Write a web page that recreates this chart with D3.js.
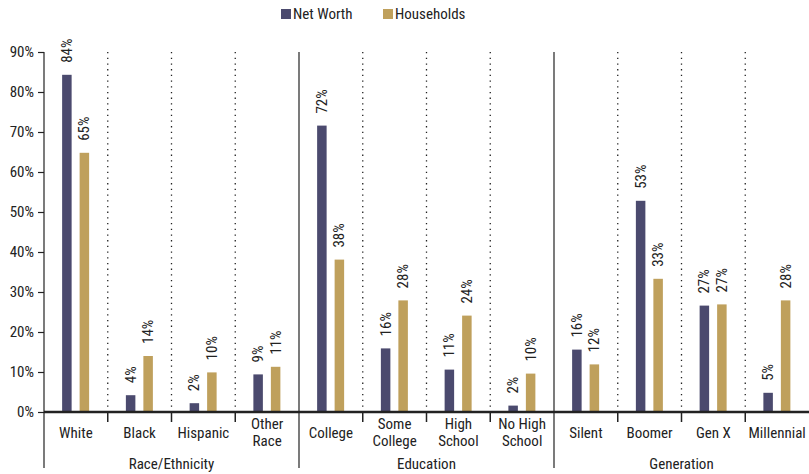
<!DOCTYPE html>
<html><head><meta charset="utf-8">
<script src="https://cdn.jsdelivr.net/npm/d3@7"></script>
<style>body{margin:0;background:#fff}svg{display:block}text{font-family:"Liberation Sans Narrow","Arial Narrow","Roboto Condensed",sans-serif;fill:#222}</style>
</head><body><svg id="c" width="809" height="474"></svg>
<script>
const categories = ["White","Black","Hispanic","Other Race","College","Some College","High School","No High School","Silent","Boomer","Gen X","Millennial"];
const catLines = [["White"],["Black"],["Hispanic"],["Other","Race"],["College"],["Some","College"],["High","School"],["No High","School"],["Silent"],["Boomer"],["Gen X"],["Millennial"]];
const groups = ["Race/Ethnicity","Education","Generation"];
const groupOf = [0,0,0,0,1,1,1,1,2,2,2,2];
const netWorth = [84.3,4.2,2.2,9.4,71.6,15.9,10.6,1.6,15.6,52.8,26.6,4.8];
const households = [64.8,14.0,9.9,11.3,38.1,27.9,24.1,9.6,11.9,33.3,26.9,27.9];
const yTicks = [0,10,20,30,40,50,60,70,80,90];
const seriesNames = ["Net Worth","Households"];
const colors = ["#4b4a6e","#bfa05c"];

const svg = d3.select("#c");
const x0 = 44, x1 = 809, yTop = 52, yBot = 412;
const x = d3.scaleBand().domain(categories).range([x0,x1]).padding(0);
const y = d3.scaleLinear().domain([0,90]).range([yBot,yTop]);
const bw = 9.5;
const offs = [-9, 8.5];
const fs = "15px";

const bounds = categories.slice(1).map((c,i)=>({x:x(c), group: groupOf[i]!==groupOf[i+1]}));
svg.selectAll("line.dot").data(bounds.filter(b=>!b.group)).join("line")
  .attr("x1",d=>d.x).attr("x2",d=>d.x).attr("y1",yTop).attr("y2",yBot)
  .attr("stroke","#222").attr("stroke-width",1.3).attr("stroke-dasharray","1.3,4.4");
svg.selectAll("line.grp").data(bounds.filter(b=>b.group)).join("line")
  .attr("x1",d=>d.x).attr("x2",d=>d.x).attr("y1",yTop).attr("y2",468)
  .attr("stroke","#222").attr("stroke-width",1.2);
svg.selectAll("line.ct").data(bounds.filter(b=>!b.group)).join("line")
  .attr("x1",d=>d.x).attr("x2",d=>d.x).attr("y1",yBot).attr("y2",422)
  .attr("stroke","#222").attr("stroke-width",1.5);

const yAxis = d3.axisLeft(y).tickValues(yTicks).tickFormat(d=>d+"%").tickSize(6).tickPadding(4);
const ga = svg.append("g").attr("transform",`translate(${x0},0)`).call(yAxis);
ga.select(".domain").remove();
ga.selectAll("line").attr("stroke","#222").attr("stroke-width",1.2);
ga.selectAll("text").style("font-size",fs).attr("fill","#222");
svg.append("line").attr("x1",x0).attr("x2",x0).attr("y1",yTop).attr("y2",468).attr("stroke","#222").attr("stroke-width",1.2);

[netWorth,households].forEach((vals,si)=>{
  const g = svg.append("g");
  g.selectAll("rect").data(vals).join("rect")
    .attr("x",(d,i)=>x(categories[i])+x.bandwidth()/2+offs[si]-bw/2)
    .attr("width",bw).attr("y",d=>y(d)).attr("height",d=>yBot-y(d))
    .attr("fill",colors[si]);
  g.selectAll("text").data(vals).join("text")
    .attr("transform",(d,i)=>`translate(${x(categories[i])+x.bandwidth()/2+offs[si]+5},${y(d)-12}) rotate(-90)`)
    .style("font-size",fs).text(d=>Math.round(d)+"%");
});

svg.append("line").attr("x1",x0).attr("x2",x1).attr("y1",yBot).attr("y2",yBot).attr("stroke","#222").attr("stroke-width",2.5);

categories.forEach((c,i)=>{
  const lines = catLines[i];
  const cx = x(c)+x.bandwidth()/2;
  if(lines.length===1){
    svg.append("text").attr("x",cx).attr("y",438).attr("text-anchor","middle").style("font-size",fs).text(lines[0]);
  } else {
    lines.forEach((l,j)=>svg.append("text").attr("x",cx).attr("y",429+j*17).attr("text-anchor","middle").style("font-size",fs).text(l));
  }
});
groups.forEach((gname,gi)=>{
  const idx = groupOf.map((g,i)=>g===gi?i:-1).filter(i=>i>=0);
  const a = x(categories[idx[0]]), b = x(categories[idx[idx.length-1]])+x.bandwidth();
  svg.append("text").attr("x",(a+b)/2).attr("y",469).attr("text-anchor","middle").style("font-size",fs).text(gname);
});

const legX = [281, 383];
seriesNames.forEach((s,i)=>{
  svg.append("rect").attr("x",legX[i]).attr("y",9).attr("width",10).attr("height",10).attr("fill",colors[i]);
  svg.append("text").attr("x",legX[i]+12).attr("y",19).style("font-size",fs).text(s);
});
</script></body></html>
